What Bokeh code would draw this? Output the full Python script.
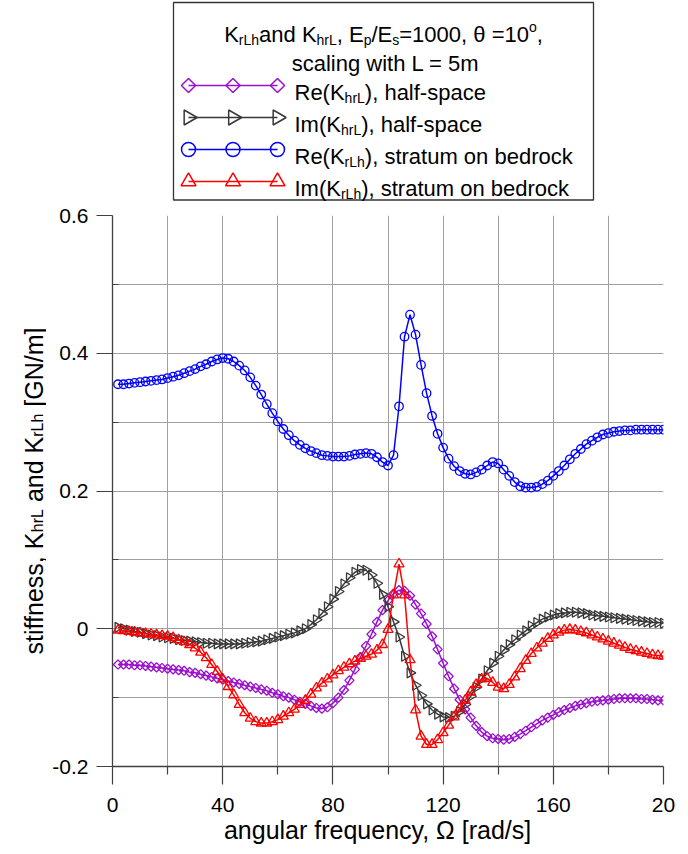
import math
from bokeh.plotting import figure
from bokeh.models import Range1d, FixedTicker, ColumnDataSource
from bokeh.layouts import gridplot
from bokeh.core.properties import value
from bokeh.embed import file_html
from bokeh.resources import INLINE

# ---------------- data ----------------
omega = list(range(2, 201, 2))  # angular frequency [rad/s]

re_hrL = [-0.052, -0.052, -0.052, -0.053, -0.053, -0.054, -0.055, -0.056, -0.057, -0.058,
          -0.059, -0.060, -0.061, -0.063, -0.064, -0.066, -0.068, -0.070, -0.072, -0.074,
          -0.076, -0.078, -0.080, -0.082, -0.084, -0.086, -0.088, -0.090, -0.093, -0.095,
          -0.098, -0.100, -0.103, -0.106, -0.109, -0.112, -0.115, -0.116, -0.114, -0.108,
          -0.100, -0.089, -0.075, -0.059, -0.041, -0.025, -0.008, 0.010, 0.027, 0.041,
          0.051, 0.056, 0.055, 0.048, 0.035, 0.022, 0.007, -0.011, -0.030, -0.050,
          -0.069, -0.087, -0.103, -0.117, -0.129, -0.141, -0.150, -0.156, -0.159, -0.160,
          -0.161, -0.160, -0.157, -0.153, -0.148, -0.143, -0.138, -0.133, -0.129, -0.125,
          -0.121, -0.118, -0.115, -0.112, -0.110, -0.108, -0.106, -0.105, -0.104, -0.103,
          -0.102, -0.101, -0.101, -0.101, -0.101, -0.102, -0.102, -0.103, -0.104, -0.104]

im_hrL = [0.002, 0.000, -0.002, -0.004, -0.005, -0.007, -0.009, -0.010, -0.012, -0.013,
          -0.014, -0.016, -0.017, -0.018, -0.019, -0.020, -0.021, -0.021, -0.022, -0.022,
          -0.022, -0.022, -0.022, -0.021, -0.020, -0.019, -0.018, -0.016, -0.014, -0.012,
          -0.010, -0.008, -0.006, -0.003, 0.000, 0.006, 0.013, 0.022, 0.032, 0.043,
          0.054, 0.065, 0.074, 0.082, 0.086, 0.085, 0.078, 0.066, 0.050, 0.032,
          0.010, -0.012, -0.040, -0.064, -0.082, -0.097, -0.109, -0.118, -0.124, -0.128,
          -0.129, -0.127, -0.120, -0.110, -0.098, -0.085, -0.073, -0.061, -0.050, -0.040,
          -0.031, -0.023, -0.016, -0.009, -0.003, 0.004, 0.009, 0.014, 0.017, 0.020,
          0.022, 0.023, 0.024, 0.024, 0.023, 0.022, 0.020, 0.019, 0.018, 0.017,
          0.016, 0.015, 0.014, 0.013, 0.012, 0.011, 0.010, 0.009, 0.009, 0.008]

re_rLh = [0.355, 0.355, 0.356, 0.357, 0.358, 0.359, 0.360, 0.361, 0.362, 0.364,
          0.366, 0.368, 0.371, 0.374, 0.377, 0.381, 0.384, 0.388, 0.391, 0.393,
          0.392, 0.388, 0.382, 0.375, 0.365, 0.353, 0.340, 0.326, 0.313, 0.301,
          0.290, 0.281, 0.273, 0.267, 0.262, 0.258, 0.255, 0.252, 0.251, 0.250,
          0.250, 0.250, 0.251, 0.253, 0.254, 0.255, 0.254, 0.249, 0.242, 0.237,
          0.252, 0.323, 0.424, 0.456, 0.427, 0.383, 0.342, 0.309, 0.283, 0.263,
          0.247, 0.236, 0.229, 0.225, 0.224, 0.227, 0.231, 0.237, 0.242, 0.240,
          0.231, 0.222, 0.213, 0.207, 0.205, 0.205, 0.206, 0.210, 0.215, 0.222,
          0.229, 0.237, 0.246, 0.254, 0.261, 0.268, 0.273, 0.278, 0.282, 0.284,
          0.286, 0.287, 0.288, 0.288, 0.289, 0.289, 0.289, 0.289, 0.289, 0.289]

im_rLh = [-0.002, -0.003, -0.004, -0.005, -0.006, -0.007, -0.008, -0.009, -0.010, -0.011,
          -0.013, -0.016, -0.019, -0.023, -0.028, -0.034, -0.042, -0.052, -0.062, -0.073,
          -0.084, -0.096, -0.110, -0.122, -0.130, -0.135, -0.137, -0.137, -0.135, -0.132,
          -0.127, -0.122, -0.117, -0.110, -0.104, -0.095, -0.086, -0.079, -0.073, -0.067,
          -0.061, -0.056, -0.051, -0.047, -0.043, -0.040, -0.037, -0.031, -0.023, -0.001,
          0.049, 0.094, 0.049, -0.045, -0.118, -0.156, -0.168, -0.168, -0.161, -0.151,
          -0.140, -0.128, -0.116, -0.104, -0.092, -0.081, -0.073, -0.072, -0.078, -0.085,
          -0.087, -0.081, -0.070, -0.058, -0.046, -0.036, -0.028, -0.021, -0.014, -0.009,
          -0.005, -0.002, -0.001, -0.002, -0.004, -0.006, -0.009, -0.012, -0.015, -0.018,
          -0.021, -0.024, -0.027, -0.030, -0.032, -0.034, -0.036, -0.038, -0.039, -0.040]

x_ticks = [0, 40, 80, 120, 160, 200]
x_minor = [20, 60, 100, 140, 180]
y_ticks = [-0.2, 0, 0.2, 0.4, 0.6]
y_minor = [-0.1, 0.1, 0.3, 0.5]

series_labels = [
    [("Re(K", "m"), ("hrL", "sub"), ("), half-space", "m")],
    [("Im(K", "m"), ("hrL", "sub"), ("), half-space", "m")],
    [("Re(K", "m"), ("rLh", "sub"), ("), stratum on bedrock", "m")],
    [("Im(K", "m"), ("rLh", "sub"), ("), stratum on bedrock", "m")],
]
title_line1 = [("K", "m"), ("rLh", "sub"), ("and K", "m"), ("hrL", "sub"), (", E", "m"), ("p", "sub"),
               ("/E", "m"), ("s", "sub"), ("=1000, \u03b8 =10", "m"), ("o", "sup"), (",", "m")]
title_line2 = "scaling with L = 5m"
x_title = "angular frequency, \u03a9 [rad/s]"
y_title = [("stiffness, K", "m"), ("hrL", "sub"), (" and K", "m"), ("rLh", "sub"), (" [GN/m]", "m")]

# ---------------- styles ----------------
FONT = "Liberation Sans"
PURPLE = "#9A10CF"
DARK = "#383838"
BLUE = "#0000FF"
RED = "#FF0000"
GRID = "#A0A0A0"
AXIS = "#404040"

AW = {' ': 278, '(': 333, ')': 333, ',': 278, '-': 333, '.': 278, '/': 278, '=': 584,
      '[': 278, ']': 278, '\u03b8': 556, '\u03a9': 768,
      'E': 667, 'G': 778, 'I': 278, 'K': 667, 'L': 556, 'N': 722, 'R': 722,
      'a': 556, 'b': 556, 'c': 500, 'd': 556, 'e': 556, 'f': 278, 'g': 556, 'h': 556,
      'i': 222, 'k': 500, 'l': 222, 'm': 833, 'n': 556, 'o': 556, 'p': 556, 'r': 333,
      's': 500, 't': 278, 'u': 556, 'w': 722, 'y': 500}


def tw(s, size):
    return sum(AW.get(c, 556) for c in s) * size / 1000.0


# page geometry
YW = 46                  # width of the y-title strip
FL, FR, FT, FB = 112, 663, 215, 766   # plot frame in page pixels
LEG_H = 201
MAIN_H = 854 - LEG_H
MAIN_W = 688 - YW
BORDER_L = FL - YW
BORDER_R = 688 - FR
BORDER_T = FT - LEG_H
BORDER_B = MAIN_H - (FB - LEG_H)

# ---------------- legend figure (page-pixel coordinates) ----------------
leg = figure(width=MAIN_W, height=LEG_H, x_range=Range1d(FL, FR), y_range=Range1d(LEG_H, 0),
             output_backend="svg", toolbar_location=None, x_axis_type=None, y_axis_type=None,
             min_border_left=BORDER_L, min_border_right=BORDER_R, min_border_top=0,
             min_border_bottom=0, title=None)
leg.outline_line_color = None
leg.grid.visible = False

leg.quad(left=[173], right=[593], top=[2], bottom=[199.5], fill_color="white",
         line_color="#333333", line_width=1.3)

MS, SS = 22, 14
tx, ty, tt, tf = [], [], [], []


def put_segments(segs, x0, base):
    x = x0
    for s, kind in segs:
        if kind == "m":
            size, off = MS, 0
        elif kind == "sub":
            size, off = SS, 5
        else:
            size, off = SS, -8
        lead = len(s) - len(s.lstrip(" "))
        tx.append(x + tw(" " * lead, size)); ty.append(base + off)
        tt.append(s.strip(" ")); tf.append("%dpx" % size)
        x += tw(s, size)


def seg_width(segs):
    return sum(tw(s, MS if k == "m" else SS) for s, k in segs)


w1 = seg_width(title_line1)
put_segments(title_line1, 383 - w1 / 2, 34)
w2 = tw(title_line2, MS)
put_segments([(title_line2, "m")], 385 - w2 / 2, 62.5)

rows = [85, 117, 149, 181]
colors = [PURPLE, DARK, BLUE, RED]
for r, segs in zip(rows, series_labels):
    put_segments(segs, 294, r + 7)

leg.text(x="x", y="y", text="t", text_font_size="fs", text_font=value(FONT),
         text_baseline="alphabetic", text_align="left", text_color="black",
         source=ColumnDataSource(dict(x=tx, y=ty, t=tt, fs=tf)))

kx = [188, 232.5, 277]
for r, c in zip(rows, colors):
    leg.line(x=[188, 277], y=[r, r], line_color=c, line_width=1.5)
leg.scatter(x=kx, y=[rows[0]] * 3, marker="square", angle=math.pi / 4, size=10,
            fill_color=None, line_color=PURPLE, line_width=1.5)
leg.scatter(x=kx, y=[rows[1]] * 3, marker="triangle", angle=-math.pi / 2, size=15,
            fill_color=None, line_color=DARK, line_width=1.5)
leg.scatter(x=kx, y=[rows[2]] * 3, marker="circle", size=14,
            fill_color=None, line_color=BLUE, line_width=1.5)
leg.scatter(x=kx, y=[rows[3]] * 3, marker="triangle", size=15,
            fill_color=None, line_color=RED, line_width=1.5)

# ---------------- y-title strip (page-pixel coordinates) ----------------
yfig = figure(width=YW, height=MAIN_H, x_range=Range1d(0, YW), y_range=Range1d(FB, FT),
              output_backend="svg", toolbar_location=None, x_axis_type=None, y_axis_type=None,
              min_border_left=0, min_border_right=0, min_border_top=BORDER_T,
              min_border_bottom=BORDER_B, title=None)
yfig.outline_line_color = None
yfig.grid.visible = False

YM, YS = 25, 16
ytot = sum(tw(s, YM if k == "m" else YS) for s, k in y_title)
ycur = (FT + FB) / 2 + ytot / 2
yx, yy, ytx, yf = [], [], [], []
for s, k in y_title:
    size = YM if k == "m" else YS
    lead = len(s) - len(s.lstrip(" "))
    yx.append(33 if k == "m" else 37)
    yy.append(ycur - tw(" " * lead, size))
    ytx.append(s.strip(" ")); yf.append("%dpx" % size)
    ycur -= tw(s, size)
yfig.text(x="x", y="y", text="t", text_font_size="fs", angle=math.pi / 2,
          text_font=value(FONT), text_baseline="alphabetic", text_align="left",
          text_color="black", source=ColumnDataSource(dict(x=yx, y=yy, t=ytx, fs=yf)))

# ---------------- main figure ----------------
p = figure(width=MAIN_W, height=MAIN_H, x_range=Range1d(0, 200), y_range=Range1d(-0.2, 0.6),
           output_backend="svg", toolbar_location=None, title=None,
           min_border_left=BORDER_L, min_border_right=BORDER_R,
           min_border_top=BORDER_T, min_border_bottom=BORDER_B)
p.outline_line_color = None

xt = FixedTicker(ticks=x_ticks, minor_ticks=x_minor)
yt_ = FixedTicker(ticks=y_ticks, minor_ticks=y_minor)
p.xaxis.ticker = xt
p.yaxis.ticker = yt_
p.xgrid.ticker = xt
p.ygrid.ticker = yt_
for g in (p.xgrid, p.ygrid):
    g.grid_line_color = GRID
    g.grid_line_width = 1
    g.minor_grid_line_color = GRID
    g.minor_grid_line_width = 1

p.xaxis.major_label_overrides = {200: "20"}
p.yaxis.major_label_overrides = {0: "0", -0.2: "-0.2"}

for ax in (p.xaxis, p.yaxis):
    ax.axis_line_color = AXIS
    ax.axis_line_width = 1.3
    ax.major_tick_line_color = AXIS
    ax.minor_tick_line_color = AXIS
    ax.major_tick_line_width = 1.2
    ax.minor_tick_line_width = 1.2
    ax.major_tick_in = 0
    ax.major_label_text_font = FONT
    ax.major_label_text_font_size = "21px"
    ax.major_label_text_color = "black"

p.xaxis.major_tick_out = 18
p.xaxis.minor_tick_out = 8
p.xaxis.minor_tick_in = 0
p.xaxis.major_label_standoff = 13
p.xaxis.axis_label = x_title + "\u00a0\u00a0\u00a0"
p.xaxis.axis_label_text_font = FONT
p.xaxis.axis_label_text_font_size = "25px"
p.xaxis.axis_label_text_font_style = "normal"
p.xaxis.axis_label_text_color = "black"
p.xaxis.axis_label_standoff = 1

p.yaxis.major_tick_out = 16
p.yaxis.minor_tick_out = 0
p.yaxis.minor_tick_in = 6
p.yaxis.major_label_standoff = 8
p.yaxis.axis_label = None

# series
p.line(omega, re_hrL, line_color=PURPLE, line_width=1.5)
p.scatter(omega, re_hrL, marker="square", angle=math.pi / 4, size=6.5,
          fill_color=None, line_color=PURPLE, line_width=1.3)
p.line(omega, im_hrL, line_color=DARK, line_width=1.5)
p.scatter(omega, im_hrL, marker="triangle", angle=-math.pi / 2, size=10,
          fill_color=None, line_color=DARK, line_width=1.3)
p.line(omega, re_rLh, line_color=BLUE, line_width=1.5)
p.scatter(omega, re_rLh, marker="circle", size=8.5,
          fill_color=None, line_color=BLUE, line_width=1.3)
p.line(omega, im_rLh, line_color=RED, line_width=1.5)
p.scatter(omega, im_rLh, marker="triangle", size=10,
          fill_color=None, line_color=RED, line_width=1.3)

grid = gridplot([[None, leg], [yfig, p]], toolbar_location=None)
open("out.html", "w").write(file_html(grid, INLINE))
